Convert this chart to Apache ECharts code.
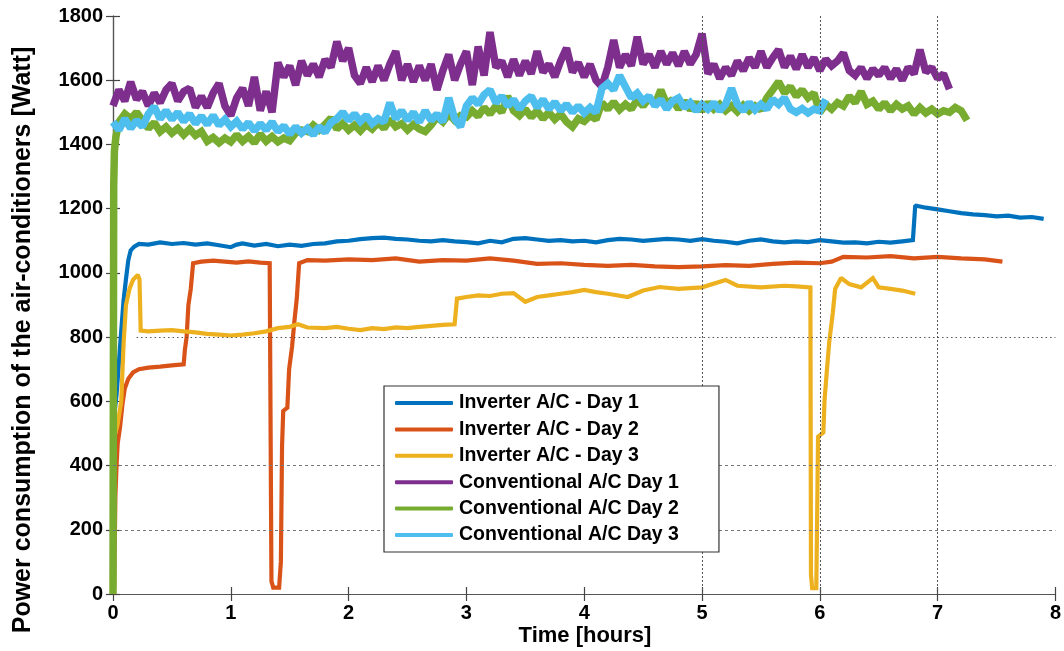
<!DOCTYPE html>
<html>
<head>
<meta charset="utf-8">
<script src="https://cdn.jsdelivr.net/npm/echarts@6/dist/echarts.min.js"></script>
<style>html,body{margin:0;padding:0;background:#fff;}#c{width:1064px;height:651px;}</style>
</head>
<body>
<div id="c"></div>
<script>
// ---- Data ----
const seriesNames = ['Inverter A/C - Day 1','Inverter A/C - Day 2','Inverter A/C - Day 3','Conventional A/C Day 1','Conventional A/C Day 2','Conventional A/C Day 3'];
const xTicks = [0,1,2,3,4,5,6,7,8];

// Inverter A/C - Day 1 (time in hours, power in W)
const inv1T = [0,0.01,0.02,0.03,0.05,0.07,0.09,0.11,0.13,0.15,0.18,0.22,0.3,0.4,0.5,0.6,0.7,0.8,0.9,1.0,1.05,1.1,1.2,1.3,1.4,1.5,1.6,1.7,1.8,1.9,2.0,2.1,2.2,2.3,2.4,2.5,2.6,2.7,2.8,2.9,3.0,3.1,3.2,3.3,3.4,3.5,3.6,3.7,3.8,3.9,4.0,4.1,4.2,4.3,4.4,4.5,4.6,4.7,4.8,4.9,5.0,5.1,5.2,5.3,5.4,5.5,5.6,5.7,5.8,5.9,6.0,6.1,6.2,6.3,6.4,6.5,6.6,6.7,6.79,6.81,6.9,7.0,7.1,7.2,7.3,7.4,7.5,7.6,7.7,7.8,7.9];
const inv1V = [500,555,560,620,720,820,915,980,1040,1070,1082,1090,1088,1095,1090,1093,1088,1092,1086,1080,1088,1092,1085,1090,1083,1088,1084,1090,1092,1098,1100,1105,1108,1110,1106,1104,1100,1098,1102,1098,1096,1092,1100,1095,1106,1108,1104,1100,1102,1098,1100,1095,1102,1106,1104,1100,1103,1106,1104,1100,1105,1100,1097,1092,1100,1104,1098,1095,1098,1096,1102,1098,1094,1095,1092,1097,1094,1098,1102,1210,1203,1198,1192,1186,1182,1180,1176,1178,1172,1174,1168];

// Inverter A/C - Day 2
const inv2T = [0,0.01,0.02,0.03,0.04,0.06,0.08,0.10,0.13,0.17,0.22,0.3,0.4,0.5,0.6,0.61,0.625,0.64,0.66,0.68,0.75,0.85,0.95,1.05,1.15,1.25,1.33,1.345,1.36,1.41,1.425,1.435,1.445,1.48,1.495,1.52,1.54,1.56,1.58,1.65,1.8,2.0,2.2,2.4,2.6,2.8,3.0,3.2,3.4,3.6,3.8,4.0,4.2,4.4,4.6,4.8,5.0,5.2,5.4,5.6,5.8,6.0,6.1,6.2,6.4,6.6,6.8,7.0,7.2,7.4,7.55];
const inv2V = [0,20,300,400,470,520,590,640,670,690,700,705,708,712,715,760,800,900,950,1030,1035,1038,1035,1032,1036,1032,1030,40,20,20,100,460,570,580,700,770,850,920,1030,1040,1038,1042,1040,1045,1035,1040,1038,1045,1038,1028,1030,1025,1022,1025,1020,1018,1020,1024,1022,1028,1032,1030,1035,1050,1048,1052,1045,1050,1045,1042,1035];

// Inverter A/C - Day 3
const inv3T = [0,0.02,0.04,0.07,0.09,0.11,0.14,0.17,0.21,0.225,0.235,0.3,0.4,0.5,0.6,0.7,0.8,0.9,1.0,1.1,1.2,1.3,1.4,1.5,1.57,1.65,1.8,1.9,2.0,2.1,2.2,2.3,2.4,2.5,2.6,2.7,2.8,2.9,2.92,3.0,3.1,3.2,3.3,3.4,3.5,3.6,3.7,3.8,3.9,4.0,4.1,4.2,4.37,4.5,4.64,4.8,5.0,5.2,5.3,5.5,5.7,5.8,5.92,5.925,5.935,5.97,5.985,6.03,6.04,6.06,6.08,6.11,6.13,6.18,6.25,6.35,6.45,6.5,6.6,6.7,6.81];
const inv3V = [480,500,530,600,780,900,950,978,994,980,820,818,820,822,818,815,810,808,805,808,812,818,828,832,840,830,828,832,826,822,828,825,830,828,832,835,838,840,920,925,930,928,935,937,910,925,930,935,940,947,940,935,925,945,956,950,955,978,960,955,960,958,955,60,18,18,490,503,603,697,785,875,950,984,965,955,984,955,950,945,935];

// Conventional series, sampled every 0.05 h
const convStep = 0.05;
const conv1Start = 0;
const conv1V = [1520,1570,1535,1595,1540,1565,1520,1560,1530,1570,1590,1535,1565,1575,1515,1550,1515,1560,1590,1520,1490,1545,1575,1520,1610,1505,1565,1500,1655,1610,1645,1585,1660,1615,1650,1610,1665,1640,1720,1660,1700,1615,1590,1640,1595,1645,1600,1650,1690,1600,1650,1595,1645,1600,1650,1570,1630,1680,1600,1650,1690,1585,1705,1615,1750,1640,1660,1610,1665,1615,1660,1620,1690,1625,1650,1610,1660,1700,1625,1655,1610,1650,1600,1580,1640,1725,1640,1680,1645,1735,1650,1680,1640,1690,1650,1685,1645,1690,1650,1680,1745,1620,1650,1605,1640,1615,1660,1630,1670,1640,1690,1640,1670,1695,1640,1675,1635,1680,1640,1670,1630,1665,1645,1660,1685,1630,1615,1640,1605,1635,1615,1640,1605,1635,1600,1640,1620,1695,1625,1640,1605,1620,1572];

const conv2HeadT = [0,0.006,0.012,0.025];
const conv2HeadV = [0,1270,1380,1425];
const conv2Start = 0.05;
const conv2V = [1470,1495,1480,1500,1475,1450,1468,1440,1455,1435,1450,1430,1448,1428,1440,1410,1422,1405,1420,1408,1430,1410,1425,1405,1432,1410,1425,1408,1420,1412,1435,1445,1440,1460,1445,1462,1482,1448,1465,1445,1460,1442,1462,1448,1468,1450,1478,1455,1465,1445,1462,1448,1440,1460,1485,1470,1495,1475,1490,1485,1505,1488,1515,1495,1520,1500,1550,1505,1490,1510,1485,1505,1480,1500,1478,1495,1470,1455,1480,1472,1490,1478,1530,1510,1532,1508,1525,1510,1540,1520,1545,1525,1570,1525,1540,1510,1535,1508,1530,1505,1530,1510,1525,1505,1520,1502,1522,1505,1520,1508,1545,1570,1595,1560,1580,1550,1570,1545,1560,1500,1525,1510,1530,1520,1550,1530,1565,1525,1535,1510,1530,1505,1525,1510,1520,1495,1515,1498,1510,1495,1505,1500,1515,1505,1475];

const conv3Start = 0;
const conv3V = [1470,1445,1480,1450,1475,1455,1495,1518,1480,1505,1478,1500,1472,1495,1465,1488,1462,1490,1460,1478,1455,1472,1448,1468,1442,1465,1445,1470,1440,1458,1432,1455,1435,1450,1430,1455,1438,1468,1480,1500,1475,1495,1472,1490,1465,1480,1470,1530,1480,1505,1475,1500,1470,1505,1475,1495,1470,1545,1480,1455,1520,1545,1525,1555,1570,1530,1550,1520,1540,1510,1535,1550,1515,1540,1510,1532,1505,1525,1500,1520,1498,1515,1500,1575,1590,1570,1615,1580,1545,1560,1535,1550,1520,1540,1510,1535,1545,1515,1530,1505,1525,1510,1530,1505,1525,1575,1525,1505,1530,1508,1525,1510,1540,1525,1545,1510,1500,1512,1498,1510,1505,1540];

// grid lines that are visible in the reference
const vGrid = [5,6,7];
const hGridDashed = [200,400];
const hGridDotted = {value:800, from:0.2};

const colors = ['#0072BD','#D95319','#EDB120','#7E2F8E','#77AC30','#4DBEEE'];

// ---- build ----
function pairs(t, v){ return t.map((x,i)=>[x, v[i]]); }
function regular(start, v){ return v.map((y,i)=>[+(start + i*convStep).toFixed(3), y]); }

const dataSets = [
  pairs(inv1T, inv1V),
  pairs(inv2T, inv2V),
  pairs(inv3T, inv3V),
  regular(conv1Start, conv1V),
  pairs(conv2HeadT, conv2HeadV).concat(regular(conv2Start, conv2V)),
  regular(conv3Start, conv3V)
];

const FF = '"Liberation Sans", Arial, sans-serif';
const chart = echarts.init(document.getElementById('c'), null, {renderer:'canvas'});

const series = dataSets.map((d,i)=>({
  name: seriesNames[i], type:'line', data:d, symbol:'none', showSymbol:false,
  lineStyle:{width: i<3 ? 4.2 : 7.5, color: colors[i], join:'miter', miterLimit:1.5}, itemStyle:{color: colors[i]},
  animation:false, silent:true, z:2
}));

const mlData = [];
vGrid.forEach(x=>mlData.push({xAxis:x, lineStyle:{type:[2,2], color:'#555', width:1}}));
hGridDashed.forEach(y=>mlData.push([{coord:[0,y], lineStyle:{type:[3,3], color:'#777', width:1}},{coord:[8,y]}]));
mlData.push([{coord:[hGridDotted.from,hGridDotted.value], lineStyle:{type:[1.5,3], color:'#555', width:1}},{coord:[8,hGridDotted.value]}]);

series.push({
  name:'grid', type:'line', data:[], silent:true, animation:false, z:3,
  markLine:{silent:true, animation:false, symbol:['none','none'], label:{show:false}, data:mlData}
});

const axLine = {show:true, lineStyle:{color:'#555', width:1.2}};
const axTick = {show:true, inside:true, length:7, lineStyle:{color:'#444', width:1.2}};
const lbl = {color:'#000', fontSize:20, fontWeight:'bold', fontFamily:FF};

chart.setOption({
  animation:false,
  backgroundColor:'#fff',
  grid:{left:113, top:16, width:946, height:578, containLabel:false},
  xAxis:[
    {type:'value', min:0, max:8, interval:1, position:'bottom', axisLine:axLine, axisTick:axTick, splitLine:{show:false},
     axisLabel:Object.assign({margin:9, formatter:v=>xTicks.includes(v)?String(v):''}, lbl)},
    {type:'value', min:0, max:8, interval:1, position:'top', axisLine:axLine, axisTick:axTick, splitLine:{show:false}, axisLabel:{show:false}}
  ],
  yAxis:[
    {type:'value', min:0, max:1800, interval:200, position:'left', axisLine:axLine, axisTick:axTick, splitLine:{show:false},
     axisLabel:Object.assign({margin:10, formatter:v=>String(v)}, lbl)},
    {type:'value', min:0, max:1800, interval:200, position:'right', axisLine:axLine, axisTick:axTick, splitLine:{show:false}, axisLabel:{show:false}}
  ],
  legend:{
    data:seriesNames, orient:'vertical', left:384, top:386,
    backgroundColor:'#fff', borderColor:'#333', borderWidth:1.2, borderRadius:0,
    padding:[7,40,7,11], itemGap:6.4, itemWidth:58, itemHeight:4, icon:'roundRect',
    textStyle:{color:'#000', fontSize:19.5, fontWeight:'bold', fontFamily:FF, lineHeight:20, padding:[0,0,0,1]},
    selectedMode:false, z:10
  },
  graphic:[
    {type:'text', x:23, y:340, rotation:Math.PI/2, style:{text:'Power consumption of the air-conditioners [Watt]', fill:'#000', font:'bold 25px '+FF, textAlign:'center', textVerticalAlign:'middle'}},
    {type:'text', x:585, y:636, style:{text:'Time [hours]', fill:'#000', font:'bold 22px '+FF, textAlign:'center', textVerticalAlign:'middle'}}
  ],
  series:series
});
</script>
</body>
</html>
